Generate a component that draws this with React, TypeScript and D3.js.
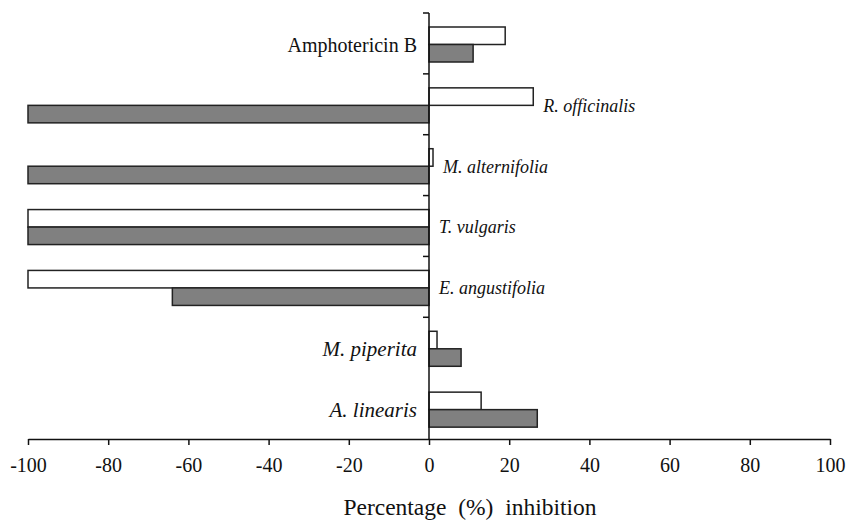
import React, { useEffect, useRef } from 'react';
import * as d3 from 'd3';

// categories bottom -> top as drawn
const categories = ['A. linearis', 'M. piperita', 'E. angustifolia', 'T. vulgaris', 'M. alternifolia', 'R. officinalis', 'Amphotericin B'];
const whiteValues = [13, 2, -100, -100, 1, 26, 19];
const grayValues = [27, 8, -64, -100, -100, -100, 11];
// where each label sits relative to the y axis
const labelSide = ['left', 'left', 'right', 'right', 'right', 'right', 'left'];
const labelItalic = [true, true, true, true, true, true, false];
const xTicks = [-100, -80, -60, -40, -20, 0, 20, 40, 60, 80, 100];
const xTitle = 'Percentage\u00a0\u00a0(%)\u00a0\u00a0inhibition';

const W = 850;
const H = 526;
const FONT = 'Liberation Serif';

const App = () => {
  const svgRef = useRef<SVGSVGElement>(null);

  useEffect(() => {
    const svg = d3.select(svgRef.current);
    svg.selectAll('*').remove();

    const x = d3.scaleLinear().domain([-100, 100]).range([28, 830]);
    // top -> bottom order for the band scale
    const y = d3.scaleBand<string>()
      .domain([...categories].reverse())
      .range([13, 439])
      .padding(0);

    const bw = y.bandwidth();
    const barH = 17.5;
    const offset = 14;

    const g = svg.append('g');

    // bars
    categories.forEach((c, i) => {
      const top = y(c)! + offset;
      const wv = whiteValues[i];
      const gv = grayValues[i];
      g.append('rect')
        .attr('x', Math.min(x(0), x(wv)))
        .attr('y', top)
        .attr('width', Math.abs(x(wv) - x(0)))
        .attr('height', barH)
        .attr('fill', '#ffffff')
        .attr('stroke', '#222')
        .attr('stroke-width', 1.5);
      g.append('rect')
        .attr('x', Math.min(x(0), x(gv)))
        .attr('y', top + barH)
        .attr('width', Math.abs(x(gv) - x(0)))
        .attr('height', barH)
        .attr('fill', '#808080')
        .attr('stroke', '#222')
        .attr('stroke-width', 1.5);

      // label: left of the axis, or just past the white bar on the right
      const cy = top + barH;
      const left = labelSide[i] === 'left';
      const size = left ? (labelItalic[i] ? 21 : 20) : 18;
      g.append('text')
        .attr('x', left ? x(0) - 12 : x(Math.max(0, wv)) + 10)
        .attr('y', cy)
        .attr('dy', '0.35em')
        .attr('text-anchor', left ? 'end' : 'start')
        .style('font-family', FONT)
        .style('font-size', size + 'px')
        .style('font-style', labelItalic[i] ? 'italic' : 'normal')
        .attr('fill', '#111')
        .text(c);
    });

    // y axis line with ticks at band boundaries
    g.append('line')
      .attr('x1', x(0)).attr('x2', x(0))
      .attr('y1', 13).attr('y2', 439)
      .attr('stroke', '#111').attr('stroke-width', 1.5);
    categories.forEach((c) => {
      const yy = y(c)!;
      if (yy + bw >= 438) return;
      g.append('line')
        .attr('x1', x(0) - 6).attr('x2', x(0))
        .attr('y1', yy).attr('y2', yy)
        .attr('stroke', '#111').attr('stroke-width', 1.5);
    });

    // x axis
    const xAxis = d3.axisBottom(x)
      .tickValues(xTicks)
      .tickSize(6)
      .tickSizeOuter(0)
      .tickPadding(13)
      .tickFormat(d => String(d));
    const ax = svg.append('g')
      .attr('transform', 'translate(0,439)')
      .call(xAxis);
    ax.attr('font-family', null).attr('font-size', null);
    ax.select('.domain').attr('stroke', '#111').attr('stroke-width', 1.5);
    ax.selectAll('.tick line').attr('stroke', '#111').attr('stroke-width', 1.5);
    ax.selectAll('.tick text')
      .style('font-family', FONT)
      .style('font-size', '20px')
      .attr('fill', '#111');

    // axis title
    svg.append('text')
      .attr('x', 470)
      .attr('y', 515)
      .attr('text-anchor', 'middle')
      .style('font-family', FONT)
      .style('font-size', '23.5px')
      .attr('fill', '#111')
      .text(xTitle);
  }, []);

  return (
    <div style={{ position: 'fixed', left: 0, top: 0, width: W, height: H, background: '#fff' }}>
      <svg ref={svgRef} width={W} height={H} style={{ display: 'block', fontFamily: FONT }} />
    </div>
  );
};

export default App;
